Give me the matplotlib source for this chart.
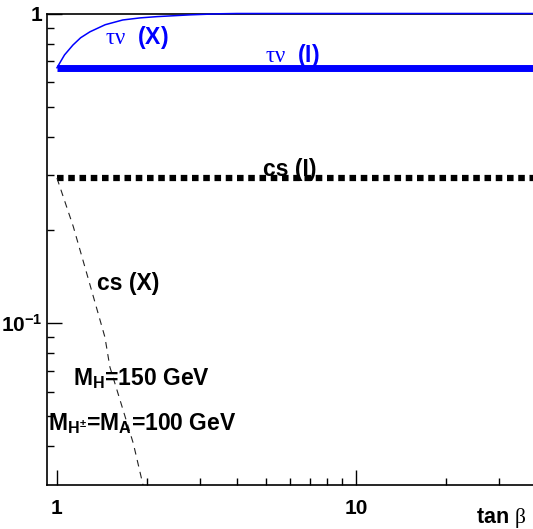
import numpy as np
import matplotlib
matplotlib.use("Agg")
import matplotlib.pyplot as plt
from matplotlib.ticker import FixedLocator, NullFormatter

plt.rcParams['font.family'] = ['Liberation Sans', 'DejaVu Sans']
plt.rcParams['mathtext.fontset'] = 'custom'
plt.rcParams['mathtext.rm'] = 'Liberation Sans:bold'
plt.rcParams['mathtext.bf'] = 'Liberation Sans:bold'
plt.rcParams['mathtext.it'] = 'Liberation Serif'   # greek letters upright, symbol-like
plt.rcParams['mathtext.default'] = 'it'

# branching ratios vs tan(beta)
tanb_flat = [1.0, 60.0]
taunu_I = [0.668, 0.668]
cs_I = [0.294, 0.294]

tanb_taunu_X = [1.0, 1.06, 1.131, 1.2, 1.29, 1.45, 1.66, 1.9, 2.16, 2.79, 3.5, 4.0, 60.0]
taunu_X = [0.668, 0.735, 0.791, 0.835, 0.873, 0.92, 0.953, 0.968, 0.977, 0.99, 0.998, 1.0, 1.0]

tanb_cs_X = [1.0, 1.134, 1.257, 1.447, 1.503, 1.80, 1.94]
cs_X = [0.294, 0.205, 0.145, 0.090, 0.0722, 0.0409, 0.030]

x_major = [1, 10]
x_major_labels = ['1', '10']
y_major = [0.1, 1]
y_major_labels = [r'$\mathbf{10^{-1}}$', '1']

W, H = 533, 529
fig = plt.figure(figsize=(W / 100, H / 100), dpi=100)
ax = fig.add_axes([46.7 / W, 1 - 485 / H, 1 - 46.7 / W, (485 - 13.5) / H])
ax.set_xscale('log')
ax.set_yscale('log')
ax.set_xlim(0.924, 39.1)
ax.set_ylim(0.030, 1.0)

blue = '#0000ff'
ax.plot(tanb_flat, taunu_I, color=blue, lw=5, solid_capstyle='butt')
ax.plot(tanb_taunu_X, taunu_X, color=blue, lw=1.1, clip_on=False, zorder=5)
ax.plot(tanb_flat, cs_I, color='black', lw=4.5, linestyle=(0, (1.05, 0.75)),
        dash_capstyle='butt')
ax.plot(tanb_cs_X, cs_X, color='#222222', lw=0.8, linestyle=(0, (6, 5)))

fs = 16.5
ax.text(1.447, 0.797, r'$\tau\nu$  (X)', color=blue, fontsize=fs, fontweight='bold')
ax.text(4.96, 0.699, r'$\tau\nu$  (I)', color=blue, fontsize=fs, fontweight='bold')
ax.text(4.89, 0.298, 'cs (I)', color='black', fontsize=fs, fontweight='bold')
ax.text(1.36, 0.128, 'cs (X)', color='black', fontsize=fs, fontweight='bold')
ax.text(1.131, 0.0630, r'$\mathbf{M_H}$=150 GeV', fontsize=fs, fontweight='bold')
ax.text(0.933, 0.0451, r'$\mathbf{M_{H^{\pm}}}$=$\mathbf{M_A}$=100 GeV',
        fontsize=fs, fontweight='bold')
fig.text(476 / W, 1 - 523 / H, r'tan $\beta$', fontsize=15.5, fontweight='bold')

# ticks
tfs = 15
ax.tick_params(which='both', direction='in', width=1)
ax.tick_params(which='major', length=11)
ax.tick_params(which='minor', length=5)
ax.tick_params(axis='x', pad=10)
ax.tick_params(axis='y', pad=3)
ax.xaxis.set_major_locator(FixedLocator(x_major))
ax.xaxis.set_minor_locator(FixedLocator([2, 3, 4, 5, 6, 7, 8, 9, 20, 30]))
ax.set_xticklabels(x_major_labels, fontsize=tfs, fontweight='bold')
ax.yaxis.set_major_locator(FixedLocator(y_major))
ax.yaxis.set_minor_locator(FixedLocator([0.04, 0.05, 0.06, 0.07, 0.08, 0.09,
                                         0.2, 0.3, 0.4, 0.5, 0.6, 0.7, 0.8, 0.9]))
ax.set_yticklabels(y_major_labels, fontsize=tfs, fontweight='bold')
ax.xaxis.set_minor_formatter(NullFormatter())
ax.yaxis.set_minor_formatter(NullFormatter())

ax.spines['right'].set_visible(False)
for s in ['left', 'bottom', 'top']:
    ax.spines[s].set_linewidth(1.2)

fig.savefig('out.png', dpi=100)
